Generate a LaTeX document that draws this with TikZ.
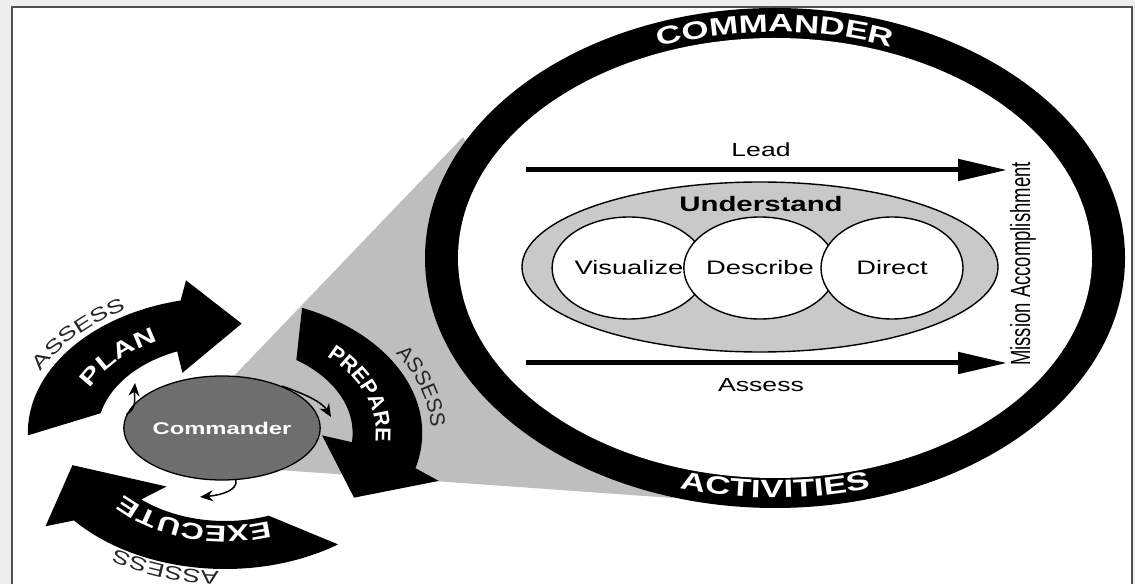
\documentclass[tikz,border=0pt]{standalone}
\usepackage{fontspec}
\setmainfont{Liberation Sans}
\newfontfamily\wf[FakeStretch=1.4]{Liberation Sans}
\newfontfamily\nf{Liberation Sans}
\usetikzlibrary{decorations.text,shapes.geometric,arrows.meta}
\definecolor{bgout}{HTML}{EEEEEE}
\definecolor{framec}{HTML}{505050}
\definecolor{wedgec}{HTML}{BEBEBE}
\definecolor{undc}{HTML}{C9C9C9}
\definecolor{cmdc}{HTML}{6E6E6E}
\newcommand\ringtxt{\wf\bfseries\fontsize{25}{28}\selectfont\color{white}}
\newcommand\acttxt{\wf\bfseries\fontsize{25}{28}\selectfont\color{white}}
\newcommand\plantxt{\wf\bfseries\fontsize{22}{24}\selectfont\color{white}}
\newcommand\preptxt{\nf\bfseries\fontsize{21.5}{24}\selectfont\color{white}}
\newcommand\exectxt{\wf\bfseries\fontsize{23}{26}\selectfont\color{white}}
\newcommand\asstxt{\wf\fontsize{19}{22}\selectfont\color{black!85}}
\newcommand\assrtxt{\nf\fontsize{21}{24}\selectfont\color{black!85}}
\begin{document}
\begin{tikzpicture}[x=1pt,y=1pt,
  bigarrow/.style={line width=5pt,-{Triangle[length=49pt,width=21pt]}},
  smallarrow/.style={line width=1.5pt,-{Stealth[length=13pt,width=11pt]}},
  bubble/.style={ellipse,draw=black,line width=1.4pt,fill=white,inner sep=0pt,
     font=\wf\fontsize{19.5}{22}\selectfont},
  lbl/.style={font=\wf\fontsize{19}{22}\selectfont,inner sep=0pt},
  cyc/.style={fill=black}]
\useasboundingbox (0,0) rectangle (1135,584);
% background and frame
\fill[bgout] (0,0) rectangle (1135,584);
\fill[white] (12,0) rectangle (1132,577);
\draw[framec,line width=2pt] (12,0) -- (12,577) -- (1132,577) -- (1132,0);
% grey wedge
\fill[wedgec] (232,206) -- (463,447) -- (560,284) -- (673,86) -- (265,115) -- (222,156) -- cycle;
% ring
\fill[black] (775,326) ellipse [x radius=350, y radius=250];
\fill[white] (775,326) ellipse [x radius=317, y radius=220];
\path[decorate,decoration={text along path,text={|\ringtxt|COMMANDER},text align=center}]
  (775,326) ++(120:324 and 226) arc[start angle=120,end angle=60,x radius=324,y radius=226];
\path[decorate,decoration={text along path,text={|\acttxt|ACTIVITIES},text align=center}]
  (775,326) ++(240:339 and 240) arc[start angle=240,end angle=300,x radius=339,y radius=240];
% understand ellipse and bubbles
\node[ellipse,draw=black,line width=1.4pt,fill=undc,minimum width=476pt,minimum height=170pt,inner sep=0pt] (und) at (760,317) {};
\node[font=\wf\bfseries\fontsize{21}{24}\selectfont,inner sep=0pt] (undl) at (761,380) {Understand};
\node[bubble,minimum width=134pt,minimum height=102pt] (vis) at (629,316) {Visualize};
\node[bubble,minimum width=136pt,minimum height=102pt] (des) at (760,316) {Describe};
\node[bubble,minimum width=142pt,minimum height=102pt] (dir) at (892,316) {Direct};
% lead / assess arrows
\node[lbl] (leadl) at (761,434) {Lead};
\coordinate (leadS) at (526,414);
\coordinate (leadE) at (1007,414);
\draw[bigarrow] (leadS) -- (leadE);
\coordinate (assS) at (526,221);
\coordinate (assE) at (1007,221);
\draw[bigarrow] (assS) -- (assE);
\node[lbl] (assl) at (761,199) {Assess};
\node[rotate=90,inner sep=0pt] (mission) at (1023,320) {\scalebox{1}[1.5]{\nf\fontsize{18.5}{20}\selectfont Mission Accomplishment}};
% operations cycle arrows
\begin{scope}[shift={(225,151)},xscale=1.45]
\fill[cyc] (167:88) -- (181:136) arc[start angle=181,end angle=103,radius=136] -- (100:155) -- (84:110) -- (116:67) -- (112:88) arc[start angle=112,end angle=167,radius=88] -- cycle;
\fill[cyc] (56:88) -- (67:136) arc[start angle=67,end angle=-15,radius=136] -- (-18:155) -- (-36:110) -- (-2:67) -- (-6:88) arc[start angle=-6,end angle=56,radius=88] -- cycle;
\fill[cyc] (-70:88) -- (-55:136) arc[start angle=-55,end angle=-140,radius=136] -- (-143:155) -- (-163:110) -- (-127:67) -- (-131:88) arc[start angle=-131,end angle=-70,radius=88] -- cycle;
\end{scope}
% cycle texts
\path[decorate,decoration={text along path,text={|\plantxt|PLAN},text align=center}]
  (225,151) ++(173:{1.45*103} and 103) arc[start angle=173,end angle=103,x radius={1.45*103},y radius=103];
\path[decorate,decoration={text along path,text={|\asstxt|ASSESS},text align=center}]
  (225,151) ++(174:{1.45*141} and 141) arc[start angle=174,end angle=104,x radius={1.45*141},y radius=141];
\path[decorate,decoration={text along path,text={|\preptxt|PREPARE},text align=center}]
  (225,151) ++(58:{1.45*104} and 104) arc[start angle=58,end angle=-18,x radius={1.45*104},y radius=104];
\path[decorate,decoration={text along path,text={|\assrtxt|ASSESS},text align=center}]
  (225,151) ++(54:{1.45*142} and 142) arc[start angle=54,end angle=-22,x radius={1.45*142},y radius=142];
\path[decorate,decoration={text along path,text={|\exectxt|EXECUTE},text align=center}]
  (225,151) ++(-66:{1.45*93} and 93) arc[start angle=-66,end angle=-144,x radius={1.45*93},y radius=93];
\path[decorate,decoration={text along path,text={|\asstxt|ASSESS},text align=center}]
  (225,151) ++(-72:{1.45*138} and 138) arc[start angle=-72,end angle=-146,x radius={1.45*138},y radius=138];
% commander
\node[ellipse,draw=black,line width=1.3pt,fill=cmdc,minimum width=148pt,minimum height=104pt,inner sep=0pt,
  font=\wf\bfseries\fontsize{17}{20}\selectfont,text=white] (cmdr) at (222,156) {Commander};
\coordinate (tPlan) at (135,201);
\coordinate (tPrep) at (331,167);
\coordinate (tExec) at (200,87);
\draw[smallarrow] (cmdr.172) .. controls (138,176) and (134,188) .. (tPlan);
\draw[smallarrow] (cmdr.35) .. controls (305,190) and (322,182) .. (tPrep);
\draw[smallarrow] (cmdr.-75) .. controls (238,94) and (222,89) .. (tExec);
\end{tikzpicture}
\end{document}
